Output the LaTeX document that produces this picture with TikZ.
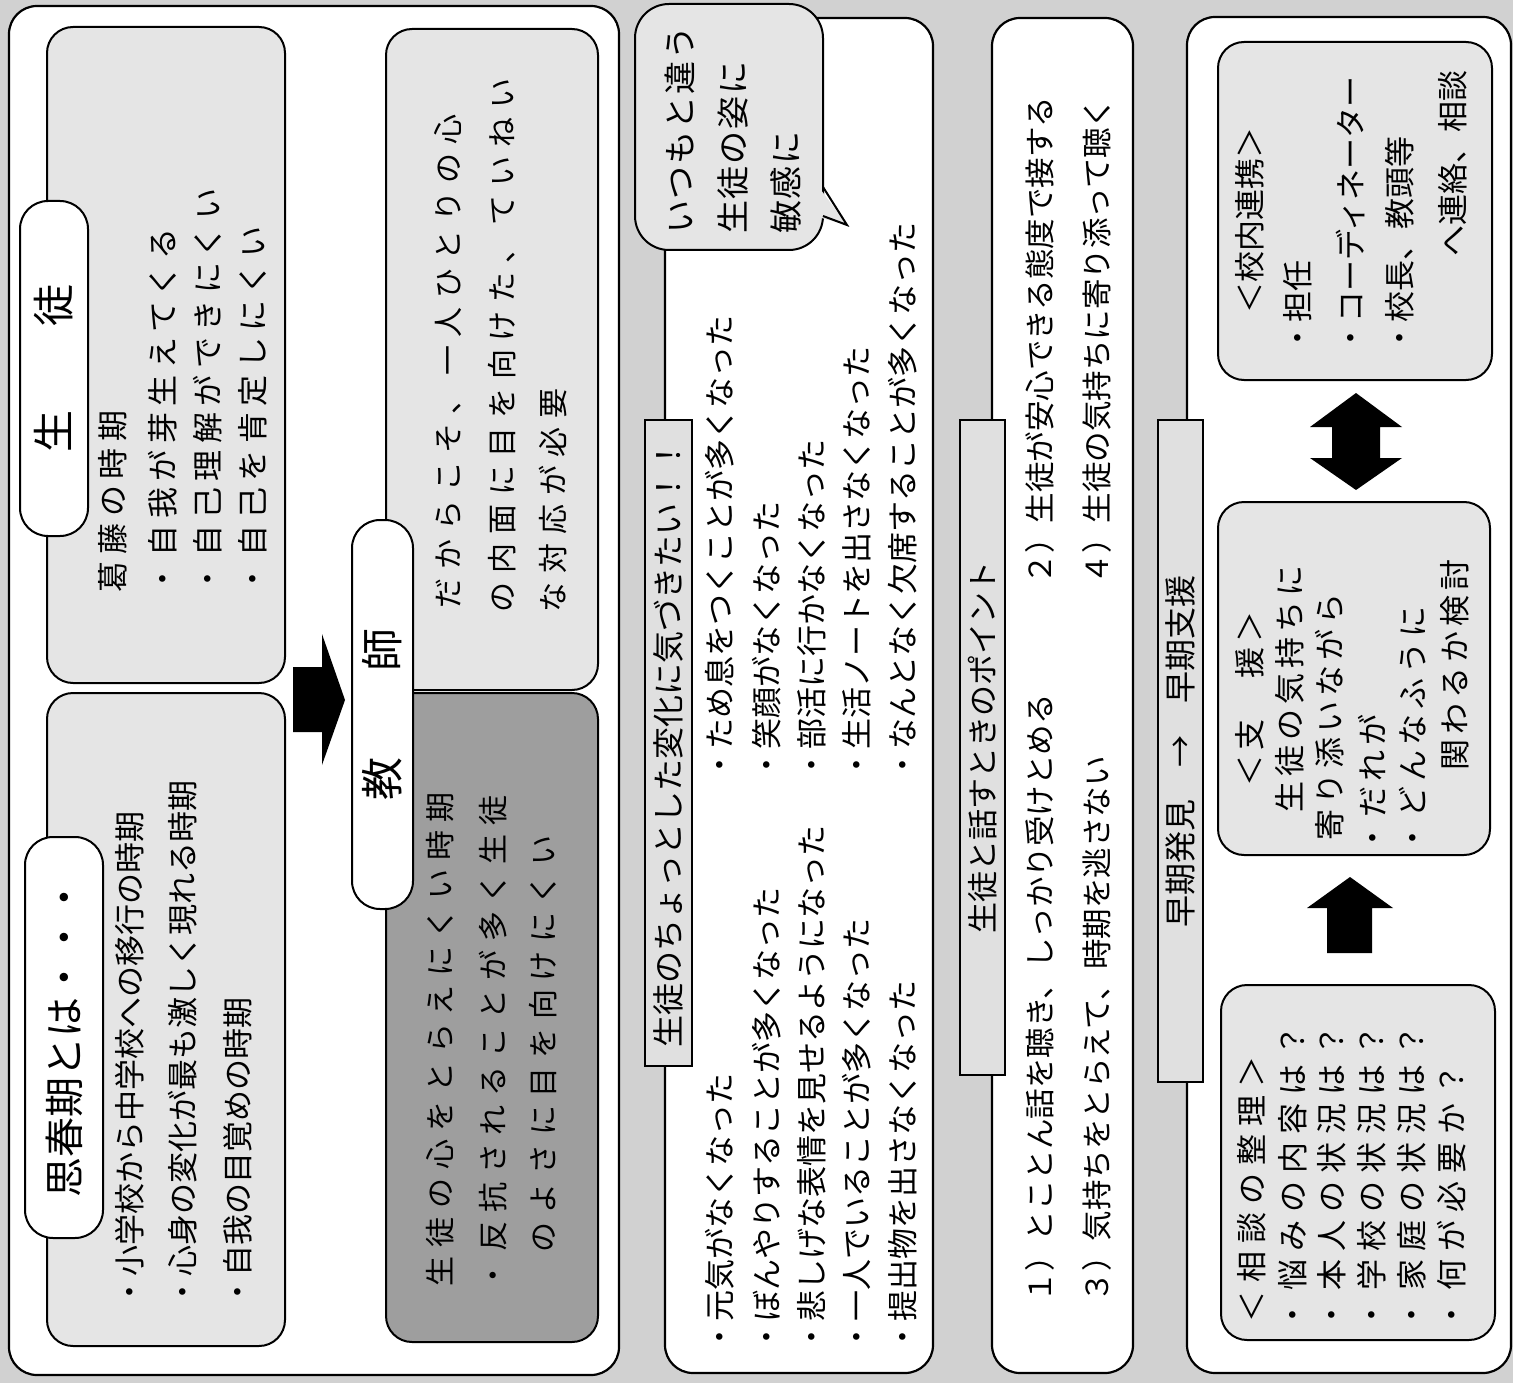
\documentclass[tikz,border=0pt]{standalone}
\usepackage{fontspec}
\newfontfamily\jp{Noto Sans CJK JP}
\newfontfamily\jpB{Noto Sans CJK JP}[LetterSpace=21]
\newfontfamily\jpC{Noto Sans CJK JP}[LetterSpace=29]
\newfontfamily\jpD{Noto Sans CJK JP}[LetterSpace=6]
\newfontfamily\jpE{Noto Sans CJK JP}[LetterSpace=16]
\newfontfamily\jpF{Noto Sans CJK JP}[LetterSpace=26]
\tikzset{
  outerbox/.style={draw=black, line width=2.2pt, rounded corners=28pt, fill=white, inner sep=0pt, outer sep=0pt},
  innerbox/.style={draw=black, line width=2pt, rounded corners=26pt, fill=black!10, inner sep=0pt, outer sep=0pt},
  tab/.style={draw=black, line width=2pt, rounded corners=28pt, fill=white, rotate=90, inner sep=0pt, outer sep=0pt},
  titlebox/.style={draw=black, line width=2.8pt, fill=black!12, rotate=90, inner sep=0pt, outer sep=0pt, font=\fontsize{32}{32}\selectfont\jp},
  bubble/.style={draw=black, line width=2pt, rounded corners=34pt, fill=black!10, inner sep=0pt},
  vt/.style={rotate=90, anchor=west, inner sep=0pt, outer sep=0pt},
  fA/.style={font=\fontsize{31}{31}\selectfont\jp},
  fP/.style={font=\fontsize{30.5}{30.5}\selectfont\jp},
  fB/.style={font=\fontsize{31}{31}\selectfont\jpB},
  fC/.style={font=\fontsize{30}{30}\selectfont\jpC},
  fD/.style={font=\fontsize{33}{33}\selectfont\jpD},
  fE/.style={font=\fontsize{31}{31}\selectfont\jpE},
  fF/.style={font=\fontsize{31}{31}\selectfont\jpF},
  blockarrow/.style={fill=black},
}
\begin{document}
\begin{tikzpicture}[x=1pt,y=-1pt]
\fill[black!18] (0,0) rectangle (1513,1383);
\useasboundingbox (0,0) rectangle (1513,1383);

% ---------------- outer boxes
\node[outerbox, minimum width=610pt, minimum height=1369pt] (o1) at (314,690.5) {};
\node[outerbox, minimum width=268pt, minimum height=1355pt] (o2) at (799,695.5) {};
\node[outerbox, minimum width=141pt, minimum height=1355pt] (o3) at (1062.5,695.5) {};
\node[outerbox, minimum width=324pt, minimum height=1356pt] (o4) at (1349,695) {};

% ---------------- column 1
\node[innerbox, minimum width=238pt, minimum height=656pt] (seito) at (166,355) {};
\node[innerbox, minimum width=238pt, minimum height=653pt] (shishunki) at (166,1019.5) {};
\node[innerbox, minimum width=212pt, minimum height=661pt] (kyoshiU) at (492,359.5) {};
\node[innerbox, fill=black!38, minimum width=212pt, minimum height=649pt] (kyoshiL) at (492,1017.5) {};

\node[tab, minimum width=335pt, minimum height=68pt, font=\fontsize{42}{42}\selectfont\jp] (tabSeito) at (54,368.5) {生　　徒};
\node[tab, minimum width=401pt, minimum height=78pt, font=\fontsize{40}{40}\selectfont\jp] (tabShi) at (64,1037.5) {思春期とは・・・};
\node[tab, minimum width=389pt, minimum height=61pt, font=\fontsize{43}{43}\selectfont\jp] (tabKyo) at (382.5,714.5) {教　　師};

\fill[blockarrow] (293,667) -- (322,667) -- (322,634) -- (345,700) -- (322,765) -- (322,732) -- (293,732) -- cycle;

\node[vt,fB] (s1) at (113,592) {葛藤の時期};
\node[vt,fB] (s2) at (163,594) {・自我が芽生えてくる};
\node[vt,fB] (s3) at (208,594) {・自己理解ができにくい};
\node[vt,fB] (s4) at (253,594) {・自己を肯定しにくい};

\node[vt,fA] (k1) at (130,1307) {・小学校から中学校への移行の時期};
\node[vt,fA] (k2) at (183,1307) {・心身の変化が最も激しく現れる時期};
\node[vt,fA] (k3) at (238,1307) {・自我の目覚めの時期};

\node[vt,fC] (t1) at (448,608) {だからこそ、一人ひとりの心};
\node[vt,fC] (t2) at (502,612) {の内面に目を向けた、ていねい};
\node[vt,fC] (t3) at (553,612) {な対応が必要};

\node[vt,fC] (u1) at (440,1286) {生徒の心をとらえにくい時期};
\node[vt,fC] (u2) at (493,1290) {・反抗されることが多く生徒};
\node[vt,fC] (u3) at (543,1252) {のよさに目を向けにくい};

% ---------------- column 2
\node[titlebox, minimum width=646pt, minimum height=47pt] (title1) at (668.5,743) {生徒のちょっとした変化に気づきたい！！};
\node[bubble, minimum width=188pt, minimum height=246pt] (bub) at (729,127) {};
\fill[black!10] (818,186) -- (847,225) -- (818,217) -- cycle;
\draw[line width=2pt, line join=miter] (823,187) -- (847,225) -- (823,216);
\node[vt,fD] (b1) at (680,234) {いつもと違う};
\node[vt,fD] (b2) at (733,234) {生徒の姿に};
\node[vt,fD] (b3) at (786,234) {敏感に};

\node[vt,fA] (l1) at (720,1352) {・元気がなくなった};
\node[vt,fA] (l2) at (767,1352) {・ぼんやりすることが多くなった};
\node[vt,fA] (l3) at (812,1352) {・悲しげな表情を見せるようになった};
\node[vt,fA] (l4) at (857,1352) {・一人でいることが多くなった};
\node[vt,fA] (l5) at (903,1352) {・提出物を出さなくなった};
\node[vt,fA] (r1) at (720,780) {・ため息をつくことが多くなった};
\node[vt,fA] (r2) at (767,780) {・笑顔がなくなった};
\node[vt,fA] (r3) at (812,780) {・部活に行かなくなった};
\node[vt,fA] (r4) at (857,780) {・生活ノートを出さなくなった};
\node[vt,fA] (r5) at (903,780) {・なんとなく欠席することが多くなった};

% ---------------- column 3
\node[titlebox, font=\fontsize{31}{31}\selectfont\jp, minimum width=655pt, minimum height=45pt] (title2) at (982.5,747.5) {生徒と話すときのポイント};
\node[vt,fP] (p1) at (1040,1302) {１）とことん話を聴き、しっかり受けとめる};
\node[vt,fP] (p3) at (1097,1302) {３）気持ちをとらえて、時期を逃さない};
\node[vt,fP] (p2) at (1040,584) {２）生徒が安心できる態度で接する};
\node[vt,fP] (p4) at (1097,584) {４）生徒の気持ちに寄り添って聴く};

% ---------------- column 4
\node[titlebox, minimum width=662pt, minimum height=45pt] (title3) at (1180.5,751) {早期発見　→　早期支援};
\node[innerbox, minimum width=274pt, minimum height=338pt] (renkei) at (1355,211) {};
\node[innerbox, minimum width=272pt, minimum height=353pt] (shien) at (1354,678.5) {};
\node[innerbox, minimum width=274pt, minimum height=355pt] (soudan) at (1358,1162.5) {};

\fill[blockarrow] (1356,393) -- (1402,427) -- (1380,427) -- (1380,458) -- (1402,458) -- (1356,490) -- (1310,458) -- (1332,458) -- (1332,427) -- (1310,427) -- cycle;
\fill[blockarrow] (1350,877) -- (1393,908) -- (1372,908) -- (1372,953) -- (1327,953) -- (1327,908) -- (1307,908) -- cycle;

\node[vt,fA] (c1) at (1250,313) {＜校内連携＞};
\node[vt,fA] (c2) at (1298,353) {・担任};
\node[vt,fA] (c3) at (1350,353) {・コーディネーター};
\node[vt,fA] (c4) at (1400,353) {・校長、教頭等};
\node[vt,fA] (c5) at (1453,257) {へ連絡、相談};

\node[vt,fE] (a0) at (1250,786) {＜支　援＞};
\node[vt,fE] (a1) at (1290,812) {生徒の気持ちに};
\node[vt,fE] (a2) at (1330,840) {寄り添いながら};
\node[vt,fE] (a3) at (1372,853) {・だれが};
\node[vt,fE] (a4) at (1413,853) {・どんなふうに};
\node[vt,fE] (a5) at (1455,770) {関わるか検討};

\node[vt,fF] (d1) at (1252,1322) {＜相談の整理＞};
\node[vt,fF] (d2) at (1293,1330) {・悩みの内容は？};
\node[vt,fF] (d3) at (1332,1330) {・本人の状況は？};
\node[vt,fF] (d4) at (1372,1330) {・学校の状況は？};
\node[vt,fF] (d5) at (1412,1330) {・家庭の状況は？};
\node[vt,fF] (d6) at (1452,1330) {・何が必要か？};
\end{tikzpicture}
\end{document}
